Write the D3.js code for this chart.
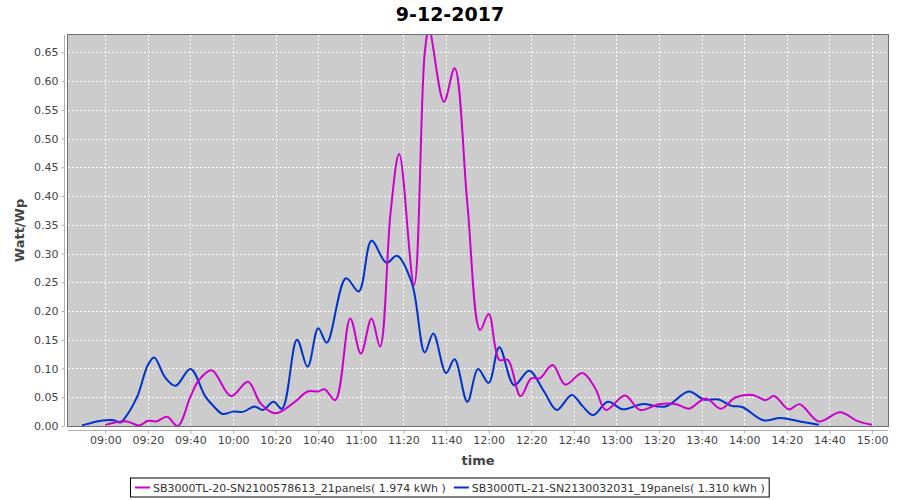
<!DOCTYPE html>
<html>
<head>
<meta charset="utf-8">
<script src="https://cdn.jsdelivr.net/npm/d3@7"></script>
<style>
  body { margin: 0; background: #fff; }
  text { font-family: "DejaVu Sans", sans-serif; }
</style>
</head>
<body>
<div id="chart"></div>
<script>
var width = 900,
  height = 500;

var chartTitle = "9-12-2017";
var yLabel = "Watt/Wp";
var xLabel = "time";

// series 1 (magenta)
var name20 = "SB3000TL-20-SN2100578613_21panels( 1.974 kWh )";
var times20 = ["09:00", "09:10", "09:16", "09:20", "09:24", "09:29", "09:34", "09:40", "09:44", "09:50",
  "09:59", "10:07", "10:13", "10:20", "10:29", "10:35", "10:40", "10:43", "10:48", "10:55",
  "11:00", "11:05", "11:09", "11:14", "11:18", "11:25", "11:30", "11:32", "11:39", "11:44",
  "11:50", "11:56", "12:00", "12:05", "12:09", "12:15", "12:20", "12:24", "12:30", "12:36",
  "12:44", "12:50", "12:55", "13:04", "13:11", "13:20", "13:28", "13:34", "13:42", "13:49",
  "13:56", "14:04", "14:10", "14:14", "14:21", "14:26", "14:35", "14:45", "14:53", "15:00"];
var values20 = [0.002, 0.008, 0.001, 0.009, 0.008, 0.016, 0.000, 0.051, 0.080, 0.097,
  0.052, 0.077, 0.039, 0.022, 0.042, 0.060, 0.060, 0.064, 0.045, 0.187,
  0.126, 0.187, 0.138, 0.373, 0.473, 0.245, 0.649, 0.690, 0.564, 0.622,
  0.387, 0.167, 0.195, 0.115, 0.115, 0.052, 0.083, 0.083, 0.106, 0.072,
  0.092, 0.066, 0.028, 0.053, 0.028, 0.038, 0.038, 0.030, 0.048, 0.030,
  0.050, 0.054, 0.045, 0.052, 0.029, 0.038, 0.008, 0.024, 0.009, 0.002];

// series 2 (blue)
var name21 = "SB3000TL-21-SN2130032031_19panels( 1.310 kWh )";
var times21 = ["08:49", "08:52", "08:56", "09:00", "09:04", "09:07", "09:09", "09:15", "09:20", "09:23",
  "09:28", "09:33", "09:40", "09:47", "09:51", "09:55", "10:00", "10:05", "10:10", "10:14",
  "10:19", "10:23", "10:30", "10:35", "10:40", "10:44", "10:53", "10:59", "11:05", "11:12",
  "11:17", "11:24", "11:30", "11:34", "11:40", "11:44", "11:50", "11:55", "12:00", "12:05",
  "12:12", "12:19", "12:26", "12:32", "12:39", "12:44", "12:49", "12:56", "13:03", "13:12",
  "13:23", "13:34", "13:41", "13:48", "13:54", "13:59", "14:09", "14:17", "14:26", "14:35"];
var values21 = [0.001, 0.004, 0.008, 0.010, 0.010, 0.006, 0.013, 0.051, 0.106, 0.119,
  0.085, 0.070, 0.099, 0.051, 0.034, 0.021, 0.025, 0.025, 0.034, 0.028,
  0.042, 0.030, 0.150, 0.103, 0.170, 0.145, 0.257, 0.234, 0.322, 0.284,
  0.296, 0.248, 0.128, 0.161, 0.092, 0.116, 0.042, 0.099, 0.075, 0.137,
  0.071, 0.096, 0.060, 0.028, 0.054, 0.035, 0.019, 0.042, 0.029, 0.038,
  0.034, 0.060, 0.046, 0.046, 0.035, 0.033, 0.010, 0.014, 0.008, 0.002];

var yTicks = [0, 0.05, 0.10, 0.15, 0.20, 0.25, 0.30, 0.35, 0.40, 0.45, 0.50, 0.55, 0.60, 0.65];
var xTicks = ["09:00", "09:20", "09:40", "10:00", "10:20", "10:40", "11:00", "11:20", "11:40", "12:00",
  "12:20", "12:40", "13:00", "13:20", "13:40", "14:00", "14:20", "14:40", "15:00"];

var parseTime = d3.timeParse("%H:%M");
var parseFull = d3.timeParse("%H:%M:%S");

// plot area
var plotLeft = 68, plotRight = 888, plotTop = 35, plotBottom = 426;

var x = d3.scaleTime()
  .domain([parseFull("08:42:30"), parseFull("15:07:30")])
  .range([plotLeft, plotRight]);

var y = d3.scaleLinear()
  .domain([0, 0.68])
  .range([plotBottom, plotTop]);

var svg = d3.select("#chart").append("svg")
  .attr("width", width)
  .attr("height", height);

// title
svg.append("text")
  .attr("x", width / 2)
  .attr("y", 21)
  .attr("text-anchor", "middle")
  .style("font-size", "19px")
  .style("font-weight", "bold")
  .text(chartTitle);

// plot background
svg.append("rect")
  .attr("x", plotLeft)
  .attr("y", plotTop)
  .attr("width", plotRight - plotLeft)
  .attr("height", plotBottom - plotTop)
  .attr("fill", "#cccccc");

// gridlines
svg.append("g")
  .selectAll("line")
  .data(xTicks)
  .enter().append("line")
  .attr("x1", function(d) { return Math.round(x(parseTime(d))) + 0.5; })
  .attr("x2", function(d) { return Math.round(x(parseTime(d))) + 0.5; })
  .attr("y1", plotTop)
  .attr("y2", plotBottom)
  .attr("stroke", "#ffffff")
  .attr("stroke-width", 1)
  .attr("stroke-dasharray", "2,2");

svg.append("g")
  .selectAll("line")
  .data(yTicks)
  .enter().append("line")
  .attr("x1", plotLeft)
  .attr("x2", plotRight)
  .attr("y1", function(d) { return Math.round(y(d)) + 0.5; })
  .attr("y2", function(d) { return Math.round(y(d)) + 0.5; })
  .attr("stroke", "#ffffff")
  .attr("stroke-width", 1)
  .attr("stroke-dasharray", "2,2");

// axes (offset 4px from plot, like the original)
var yAxis = svg.append("g")
  .attr("transform", "translate(" + (plotLeft - 3.5) + ",0)")
  .call(d3.axisLeft(y).tickValues(yTicks).tickFormat(d3.format(".2f")).tickSizeInner(3).tickSizeOuter(0));

var xAxis = svg.append("g")
  .attr("transform", "translate(0," + (plotBottom + 4.5) + ")")
  .call(d3.axisBottom(x).tickValues(xTicks.map(parseTime)).tickFormat(d3.timeFormat("%H:%M")).tickSizeInner(3).tickSizeOuter(0));

[yAxis, xAxis].forEach(function(a) {
  a.select(".domain").attr("stroke", "#b0b0b0");
  a.selectAll(".tick line").attr("stroke", "#b0b0b0");
  a.selectAll(".tick text")
    .attr("fill", "#444")
    .style("font-size", "11px")
    .style("font-family", "DejaVu Sans, sans-serif");
});
yAxis.select(".domain").attr("d", "M0," + plotTop + "V" + plotBottom);
xAxis.select(".domain").attr("d", "M" + plotLeft + ",0H" + plotRight);
yAxis.selectAll(".tick text").attr("x", -6);
xAxis.selectAll(".tick text").attr("y", 6);

// axis labels
svg.append("text")
  .attr("x", (plotLeft + plotRight) / 2)
  .attr("y", 465)
  .attr("text-anchor", "middle")
  .attr("fill", "#444")
  .style("font-size", "13px")
  .style("font-weight", "bold")
  .text(xLabel);

svg.append("text")
  .attr("transform", "translate(24," + ((plotTop + plotBottom) / 2) + ") rotate(-90)")
  .attr("text-anchor", "middle")
  .attr("fill", "#444")
  .style("font-size", "13px")
  .style("font-weight", "bold")
  .text(yLabel);

// lines
svg.append("clipPath")
  .attr("id", "plotclip")
  .append("rect")
  .attr("x", plotLeft)
  .attr("y", plotTop)
  .attr("width", plotRight - plotLeft)
  .attr("height", plotBottom - plotTop);

var line = d3.line()
  .x(function(d) { return x(d.t); })
  .y(function(d) { return y(d.v); })
  .curve(d3.curveCatmullRom.alpha(0.5));

var series = [
  { name: name20, color: "#cc00cc", data: times20.map(function(t, i) { return { t: parseTime(t), v: values20[i] }; }) },
  { name: name21, color: "#0033cc", data: times21.map(function(t, i) { return { t: parseTime(t), v: values21[i] }; }) }
];

var lines = svg.append("g").attr("clip-path", "url(#plotclip)");
series.slice().reverse().forEach(function(s) {
  lines.append("path")
    .datum(s.data)
    .attr("fill", "none")
    .attr("stroke", s.color)
    .attr("stroke-width", 2)
    .attr("d", line);
});

// plot outline
svg.append("rect")
  .attr("x", plotLeft - 0.5)
  .attr("y", plotTop - 0.5)
  .attr("width", plotRight - plotLeft + 1)
  .attr("height", plotBottom - plotTop + 1)
  .attr("fill", "none")
  .attr("stroke", "#707070")
  .attr("stroke-width", 1);

// legend
var legend = svg.append("g");
var legendBox = legend.append("rect")
  .attr("fill", "#fff")
  .attr("stroke", "#000")
  .attr("stroke-width", 1);

var cursor = 0;
series.forEach(function(s, i) {
  var item = legend.append("g").attr("transform", "translate(" + cursor + ",0)");
  item.append("line")
    .attr("x1", 0).attr("x2", 15)
    .attr("y1", 0).attr("y2", 0)
    .attr("stroke", s.color)
    .attr("stroke-width", 2);
  var t = item.append("text")
    .attr("x", 18)
    .attr("y", 4)
    .attr("fill", "#333")
    .style("font-size", "11px")
    .text(s.name);
  cursor += 18 + t.node().getComputedTextLength() + 8;
});
var legendWidth = cursor - 8;
var lx = Math.round(width / 2 - legendWidth / 2);
legend.attr("transform", "translate(" + lx + ",487.5)");
legendBox
  .attr("x", -4.5)
  .attr("y", -9.5)
  .attr("width", legendWidth + 9)
  .attr("height", 19);
</script>
</body>
</html>
